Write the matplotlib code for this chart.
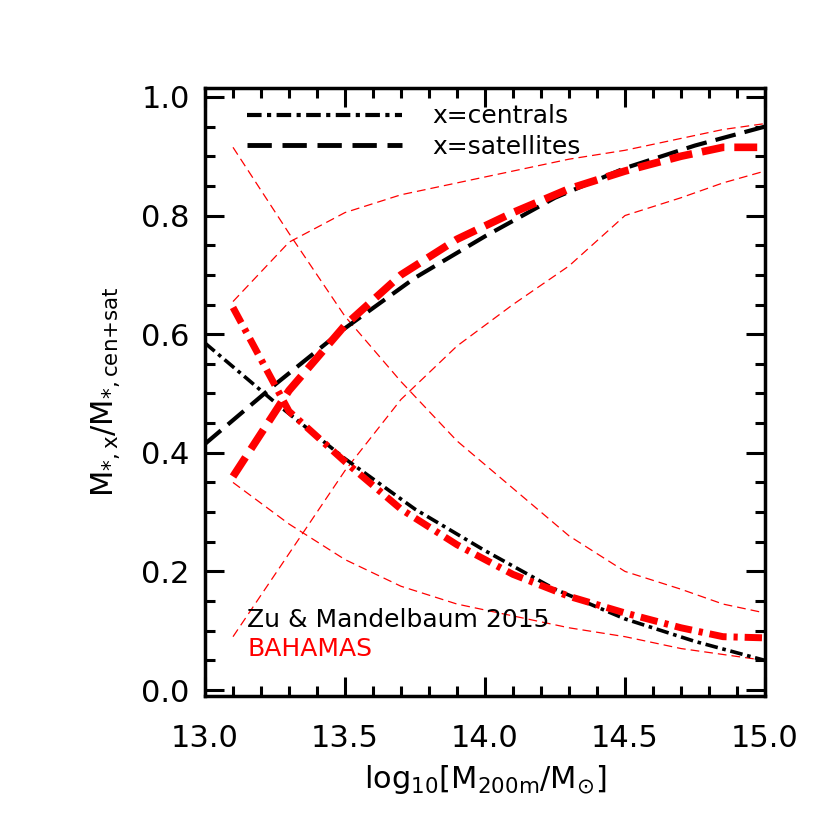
import numpy as np
import matplotlib
matplotlib.use("Agg")
import matplotlib.pyplot as plt

plt.rcParams['font.family'] = ['DejaVu Sans']
plt.rcParams['mathtext.default'] = 'regular'

# Zu & Mandelbaum 2015
zm_x = [13.0, 13.25, 13.5, 13.75, 14.0, 14.25, 14.5, 14.75, 15.0]
zm_sat = [0.415, 0.515, 0.610, 0.695, 0.765, 0.830, 0.880, 0.918, 0.950]
zm_cen = [0.585, 0.485, 0.390, 0.305, 0.235, 0.170, 0.120, 0.082, 0.050]

# BAHAMAS median and scatter
bh_x = [13.1, 13.3, 13.5, 13.7, 13.9, 14.1, 14.3, 14.5, 14.7, 14.85, 15.0]
bh_sat = [0.360, 0.505, 0.615, 0.700, 0.760, 0.805, 0.845, 0.875, 0.900, 0.915, 0.915]
bh_cen = [0.645, 0.470, 0.385, 0.305, 0.245, 0.195, 0.158, 0.130, 0.105, 0.090, 0.088]
bh_sat_hi = [0.655, 0.755, 0.805, 0.835, 0.855, 0.875, 0.895, 0.910, 0.930, 0.945, 0.955]
bh_sat_lo = [0.090, 0.230, 0.370, 0.490, 0.580, 0.650, 0.715, 0.800, 0.830, 0.855, 0.875]
bh_cen_hi = [0.915, 0.770, 0.630, 0.520, 0.420, 0.340, 0.260, 0.200, 0.170, 0.145, 0.130]
bh_cen_lo = [0.350, 0.280, 0.220, 0.175, 0.145, 0.125, 0.105, 0.090, 0.070, 0.060, 0.050]

fig = plt.figure(figsize=(8.26, 8.26), dpi=100)
ax = fig.add_axes([205/826, 1-696/826, 560/826, 608/826])

thin = dict(color='red', lw=0.9, dashes=(7, 4))
for yy in [bh_sat_hi, bh_sat_lo, bh_cen_hi, bh_cen_lo]:
    ax.plot(bh_x, yy, **thin)

ax.plot(zm_x, zm_sat, color='black', lw=3, dashes=(5, 2.2))
ax.plot(zm_x, zm_cen, color='black', lw=2.6, dashes=(3.5, 1.3, 1, 1.3))
ax.plot(bh_x, bh_sat, color='red', lw=5.5, dashes=(3, 1.3))
ax.plot(bh_x, bh_cen, color='red', lw=5, dashes=(2.5, 1, 0.6, 1))

# legend
l1, = ax.plot([], [], color='black', lw=3, dashes=(3.5, 1.3, 1, 1.3))
l2, = ax.plot([], [], color='black', lw=3.5, dashes=(5, 2.2))
ax.legend([l1, l2], ['x=centrals', 'x=satellites'], loc='upper left',
          bbox_to_anchor=(0.035, 1.01), frameon=False, fontsize=18,
          handlelength=6.2, handletextpad=1.2, labelspacing=0.25)

ax.text(0.075, 0.113, 'Zu & Mandelbaum 2015', transform=ax.transAxes,
        fontsize=18, color='black')
ax.text(0.075, 0.066, 'BAHAMAS', transform=ax.transAxes,
        fontsize=18, color='red')

ax.set_xlim(13.0, 15.0)
ax.set_ylim(-0.01, 1.015)
ax.set_xticks([13.0, 13.5, 14.0, 14.5, 15.0])
ax.set_xticks(np.arange(13.0, 15.01, 0.1), minor=True)
ax.set_yticks([0.0, 0.2, 0.4, 0.6, 0.8, 1.0])
ax.set_yticks(np.arange(0.0, 1.01, 0.05), minor=True)
ax.set_xticklabels(['13.0', '13.5', '14.0', '14.5', '15.0'])
ax.set_yticklabels(['0.0', '0.2', '0.4', '0.6', '0.8', '1.0'])
ax.tick_params(which='both', direction='in', top=True, right=True,
               width=2.2, labelsize=22)
ax.tick_params(axis='x', which='major', pad=20)
ax.tick_params(axis='y', which='major', pad=11)
ax.tick_params(which='major', length=14)
ax.tick_params(which='minor', length=7)
for s in ax.spines.values():
    s.set_linewidth(2.5)

ax.set_xlabel(r'log$_{10}$[M$_{200m}$/M$_{\odot}$]', fontsize=22, labelpad=7)
ax.set_ylabel(r'M$_{*,x}$/M$_{*,cen{+}sat}$', fontsize=22, labelpad=14)

fig.savefig('out.png', dpi=100)
